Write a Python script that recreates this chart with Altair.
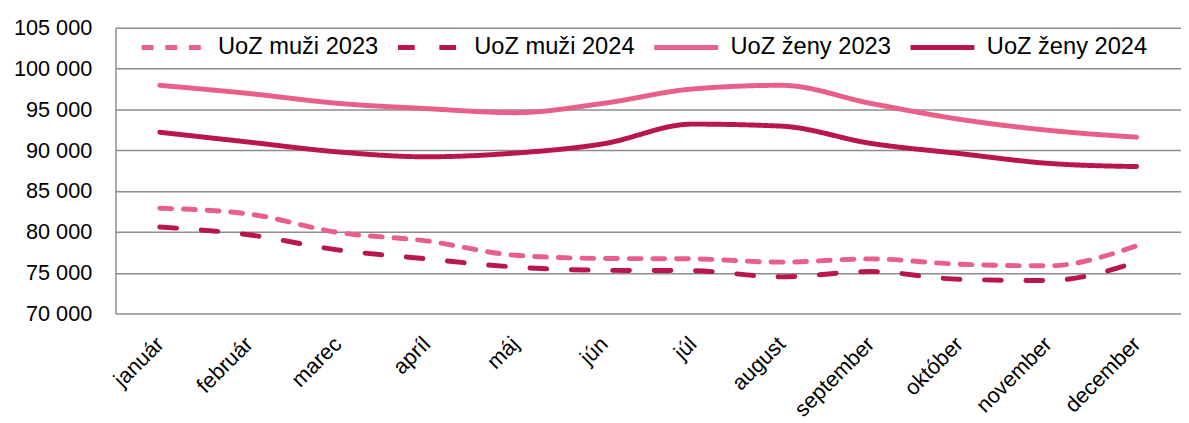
import altair as alt
import pandas as pd

months = ["január", "február", "marec", "apríl", "máj", "jún", "júl",
          "august", "september", "október", "november", "december"]
series = ["UoZ muži 2023", "UoZ muži 2024", "UoZ ženy 2023", "UoZ ženy 2024"]

muzi_2023 = [82900, 82200, 79950, 78900, 77150, 76750, 76700, 76300, 76700, 76050, 75850, 78300]
muzi_2024 = [80600, 79650, 77800, 76700, 75700, 75300, 75250, 74500, 75150, 74200, 74050, 76300]
zeny_2023 = [97950, 96950, 95750, 95100, 94600, 95750, 97500, 97950, 95750, 93800, 92450, 91600]
zeny_2024 = [92200, 91000, 89800, 89200, 89650, 90800, 93200, 92950, 90850, 89600, 88400, 88000]

colors = ["#E8608A", "#B9174B", "#E8608A", "#B9174B"]
dashes = [[12, 12], [17, 25], [1, 0], [1, 0]]

rows = []
for name, vals in zip(series, [muzi_2023, muzi_2024, zeny_2023, zeny_2024]):
    for m, v in zip(months, vals):
        rows.append({"mesiac": m, "hodnota": v, "rad": name})
df = pd.DataFrame(rows)

FONT = "Liberation Sans"

def make_legend():
    return alt.Legend(title=None, orient="none", legendX=20, legendY=-19,
                      direction="horizontal", columns=4, gridAlign="all",
                      symbolType="stroke", symbolSize=4200,
                      symbolStrokeWidth=5, labelFontSize=24,
                      labelFont=FONT, labelColor="#000000", labelLimit=0,
                      labelOffset=10, columnPadding=9, padding=4)

chart = alt.Chart(df).mark_line(strokeWidth=5, strokeCap="round", interpolate="monotone").encode(
    x=alt.X("mesiac:N", sort=months, title=None,
            scale=alt.Scale(paddingInner=1, paddingOuter=0.5),
            axis=alt.Axis(labelAngle=-45, labelAlign="right", labelBaseline="middle",
                          labelFontSize=22, labelPadding=27, ticks=False, domain=False,
                          grid=False, labelColor="#000000", labelFont=FONT)),
    y=alt.Y("hodnota:Q", title=None,
            scale=alt.Scale(domain=[70000, 105000], nice=False, zero=False),
            axis=alt.Axis(values=list(range(70000, 105001, 5000)),
                          labelExpr="replace(format(datum.value, ',d'), ',', ' ')",
                          labelFontSize=22, labelPadding=24, ticks=False,
                          domainColor="#8C8C8C", domainWidth=1.5,
                          gridColor="#8C8C8C", gridWidth=1.5,
                          labelColor="#000000", labelFont=FONT)),
    color=alt.Color("rad:N", sort=series,
                    scale=alt.Scale(domain=series, range=colors),
                    legend=make_legend()),
    strokeDash=alt.StrokeDash("rad:N", sort=series,
                              scale=alt.Scale(domain=series, range=dashes),
                              legend=make_legend()),
).properties(
    width=1081, height=290,
    autosize=alt.AutoSizeParams(type="none"),
    padding={"left": 109, "top": 17, "right": 0, "bottom": 110},
).configure_view(stroke=None)

chart.save("out.html", embed_options={"renderer": "svg", "actions": False})
